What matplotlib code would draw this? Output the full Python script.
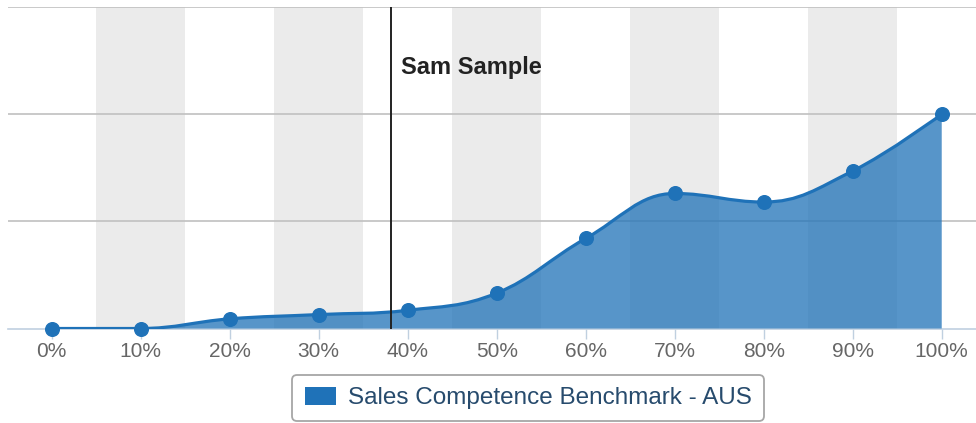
import matplotlib
matplotlib.use("Agg")
import matplotlib.pyplot as plt
import numpy as np
from matplotlib.path import Path
from matplotlib.patches import PathPatch, Patch

plt.rcParams['font.family'] = ['Liberation Sans', 'DejaVu Sans']

labels = ['0%', '10%', '20%', '30%', '40%', '50%', '60%', '70%', '80%', '90%', '100%']
values = [0.0, 0.0, 0.9, 1.3, 1.7, 3.3, 8.4, 12.6, 11.8, 14.7, 20.0]
marker_pos = 3.81          # "Sam Sample" position on the category axis
marker_name = 'Sam Sample'
series_name = 'Sales Competence Benchmark - AUS'

line_col = '#1f72b8'
W, H = 976, 423


def spline_path(xs, ys, smoothing=1.5):
    # highcharts style spline: cubic bezier with smoothed control points
    n = len(xs)
    left = [(xs[i], ys[i]) for i in range(n)]
    right = [(xs[i], ys[i]) for i in range(n)]
    d = smoothing + 1
    for i in range(1, n - 1):
        lx, ly = xs[i - 1], ys[i - 1]
        nx, ny = xs[i + 1], ys[i + 1]
        px, py = xs[i], ys[i]
        lcx = (smoothing * px + lx) / d
        lcy = (smoothing * py + ly) / d
        rcx = (smoothing * px + nx) / d
        rcy = (smoothing * py + ny) / d
        corr = (rcy - lcy) * (rcx - px) / (rcx - lcx) + py - rcy
        lcy += corr
        rcy += corr
        if lcy > ly and lcy > py:
            lcy = max(ly, py)
            rcy = 2 * py - lcy
        elif lcy < ly and lcy < py:
            lcy = min(ly, py)
            rcy = 2 * py - lcy
        if rcy > ny and rcy > py:
            rcy = max(ny, py)
            lcy = 2 * py - rcy
        elif rcy < ny and rcy < py:
            rcy = min(ny, py)
            lcy = 2 * py - rcy
        left[i] = (lcx, lcy)
        right[i] = (rcx, rcy)
    verts = [(xs[0], ys[0])]
    codes = [Path.MOVETO]
    for i in range(1, n):
        verts += [right[i - 1], left[i], (xs[i], ys[i])]
        codes += [Path.CURVE4] * 3
    return verts, codes


x = np.arange(len(labels))

fig = plt.figure(figsize=(W / 100, H / 100), dpi=100)
ax = fig.add_axes([8 / W, (H - 328.5) / H, (W - 8) / W, (328.5 - 6.5) / H])

# alternate bands
for i in range(1, len(labels), 2):
    ax.axvspan(i - 0.5, i + 0.5, color='#ebebeb', lw=0, zorder=0)

for g in [10, 20, 30]:
    ax.axhline(g, color='#c0c0c0', lw=1.2, zorder=1)

verts, codes = spline_path(list(x), values)
fill_verts = verts + [(x[-1], 0), (x[0], 0), verts[0]]
fill_codes = codes + [Path.LINETO, Path.LINETO, Path.CLOSEPOLY]
ax.add_patch(PathPatch(Path(fill_verts, fill_codes), facecolor=line_col,
                       alpha=0.75, lw=0, zorder=2))
ax.add_patch(PathPatch(Path(verts, codes), facecolor='none', edgecolor=line_col,
                       lw=2.3, zorder=3, capstyle='round', joinstyle='round'))
ax.plot(x, values, 'o', color=line_col, ms=9.8, zorder=4, clip_on=False)

ax.axvline(marker_pos, color='#222222', lw=1.4, zorder=5)
ax.text(marker_pos + 0.11, 24.4, marker_name, fontsize=17, fontweight='bold',
        color='#222222', va='center', ha='left', zorder=6)

ax.set_xlim(-0.49, 10.385)
ax.set_ylim(0, 30.05)
ax.set_xticks(x)
ax.set_xticklabels(labels, fontsize=15, color='#666666')
ax.set_yticks([])
ax.tick_params(axis='x', length=7, width=1, color='#c0d0e0', pad=3)
for s in ['top', 'left', 'right']:
    ax.spines[s].set_visible(False)
ax.spines['bottom'].set_color('#c0d0e0')
ax.spines['bottom'].set_linewidth(1.2)
ax.spines['bottom'].set_zorder(1.5)

leg = fig.legend(handles=[Patch(facecolor=line_col, edgecolor='none', label=series_name)],
                 loc='center', bbox_to_anchor=(528 / W, (H - 398) / H),
                 fontsize=17.5, frameon=True, fancybox=True, labelcolor='#274b6d',
                 handlelength=1.3, handleheight=0.75, handletextpad=0.47,
                 borderpad=0.5, borderaxespad=0)
leg.get_frame().set_edgecolor('#909090')
leg.get_frame().set_linewidth(1.3)

fig.savefig('out.png', dpi=100)
